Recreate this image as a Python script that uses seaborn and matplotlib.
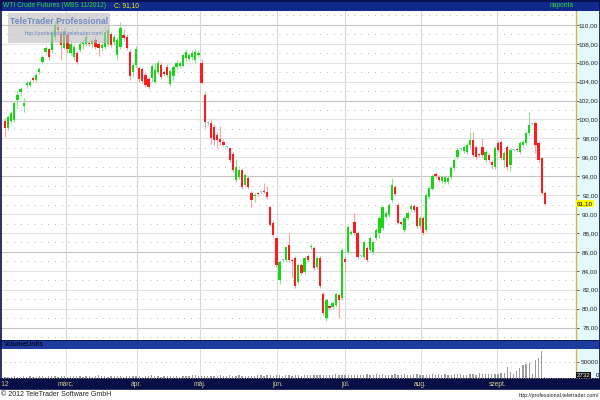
"""WTI crude futures (Nov 2012 contract) daily candles, TeleTrader style layout"""

import numpy as np
import seaborn as sns
import matplotlib.pyplot as plt
from matplotlib.patches import Rectangle

# daily prices (Feb - Sep 2012)
opens = [
    99.8, 99.1, 99.8, 99.9, 102.1, 102.9, 101.4, 103.6, 103.7, 104.4,
    104.2, 105.0, 106.1, 107.1, 107.4, 107.3, 108.7, 109.8, 109.0, 107.6,
    108.9, 107.0, 106.6, 107.0, 107.3, 108.0, 108.0, 108.1, 108.0, 108.4,
    108.0, 107.6, 107.7, 108.0, 109.0, 108.2, 106.8, 107.7, 108.9, 108.7,
    107.1, 105.0, 105.8, 105.4, 105.3, 104.7, 104.3, 104.4, 104.0, 105.0,
    105.8, 105.0, 105.6, 103.8, 104.6, 105.5, 105.7, 105.7, 106.5, 106.4,
    106.6, 106.3, 106.8, 106.0, 102.6, 99.6, 99.6, 99.2, 98.4, 97.9,
    97.6, 97.1, 97.0, 96.4, 93.6, 93.9, 94.7, 93.1, 93.8, 92.2,
    91.9, 92.2, 92.3, 92.4, 92.3, 90.7, 89.1, 87.5, 83.0, 85.1,
    85.1, 86.7, 85.1, 85.4, 82.8, 84.6, 83.9, 85.6, 86.5, 86.4,
    84.4, 85.4, 81.6, 79.0, 80.3, 80.2, 80.4, 81.5, 81.1, 85.3,
    86.0, 87.9, 89.2, 88.0, 85.6, 85.5, 86.4, 86.2, 86.0, 87.5,
    88.0, 88.5, 89.7, 89.9, 91.5, 92.9, 91.0, 89.1, 88.3, 89.6,
    90.5, 90.9, 90.7, 88.7, 89.6, 88.3, 91.8, 92.7, 94.2, 93.9,
    93.5, 93.4, 93.4, 93.9, 94.9, 96.0, 96.9, 96.7, 96.6, 97.3,
    97.8, 97.1, 96.3, 97.1, 95.7, 96.3, 95.5, 95.0, 97.5, 97.6,
    95.7, 97.1, 95.2, 96.8, 96.9, 96.6, 97.3, 97.5, 98.6, 99.5,
    99.6, 97.5, 95.9, 92.2,
]
highs = [
    100.2, 100.5, 100.9, 101.9, 103.0, 103.4, 102.3, 104.1, 104.2, 104.6,
    104.9, 105.5, 106.8, 107.8, 107.6, 109.5, 110.4, 110.6, 109.6, 109.8,
    109.3, 108.3, 107.9, 107.2, 108.3, 108.4, 109.0, 108.3, 108.5, 108.8,
    108.2, 108.2, 109.8, 109.9, 109.3, 109.0, 108.7, 110.3, 109.6, 109.0,
    107.5, 106.1, 107.8, 105.7, 105.6, 105.0, 104.5, 105.9, 106.0, 106.3,
    106.1, 105.2, 105.9, 105.3, 105.8, 106.3, 106.2, 107.0, 107.4, 107.0,
    107.3, 107.5, 107.3, 106.4, 102.9, 99.8, 100.0, 99.5, 98.7, 99.3,
    97.9, 97.2, 97.1, 96.6, 95.8, 94.9, 94.8, 94.3, 94.0, 92.4,
    92.2, 92.3, 92.4, 93.3, 93.0, 90.9, 89.3, 87.6, 85.1, 85.3,
    86.6, 88.0, 85.2, 85.6, 84.8, 84.8, 85.6, 85.8, 86.8, 86.6,
    85.6, 85.6, 81.8, 81.1, 80.4, 80.8, 81.7, 81.7, 86.4, 85.5,
    88.8, 88.3, 90.1, 88.2, 85.7, 87.2, 86.6, 87.7, 87.2, 88.5,
    89.8, 90.9, 90.3, 91.2, 93.8, 93.1, 91.2, 89.2, 89.8, 90.3,
    91.1, 91.1, 90.9, 89.8, 89.8, 92.2, 93.0, 94.2, 94.4, 94.1,
    94.0, 94.0, 94.0, 95.1, 95.9, 97.0, 97.0, 97.3, 97.5, 98.7,
    98.7, 97.3, 96.4, 98.0, 96.8, 96.5, 95.7, 97.2, 97.7, 97.8,
    96.7, 97.3, 97.0, 96.9, 97.0, 97.7, 97.8, 98.8, 100.8, 99.6,
    99.8, 97.7, 96.0, 92.4,
]
lows = [
    98.2, 98.9, 99.6, 99.7, 101.2, 102.5, 100.8, 103.3, 103.4, 104.0,
    104.0, 104.8, 105.9, 106.9, 106.3, 107.0, 108.4, 109.2, 106.3, 107.4,
    107.0, 106.8, 106.3, 105.9, 107.1, 107.5, 107.8, 107.8, 107.6, 107.4,
    106.7, 107.2, 107.5, 107.8, 107.7, 107.9, 106.3, 107.4, 108.3, 107.3,
    104.2, 104.5, 105.5, 104.0, 103.9, 103.4, 103.2, 104.1, 103.9, 104.8,
    104.3, 104.6, 104.5, 103.5, 104.2, 105.3, 105.4, 105.5, 106.2, 106.2,
    106.3, 106.0, 106.6, 103.7, 99.1, 99.4, 97.4, 97.3, 97.0, 97.3,
    97.2, 97.0, 95.5, 94.5, 93.4, 93.7, 92.6, 93.0, 92.7, 90.8,
    91.3, 91.9, 92.2, 92.2, 91.6, 88.7, 87.6, 84.4, 82.6, 84.9,
    84.9, 84.9, 83.4, 82.2, 82.6, 83.6, 83.7, 84.9, 86.3, 84.1,
    84.2, 82.2, 79.3, 78.7, 79.9, 80.0, 80.2, 79.0, 80.9, 83.9,
    85.8, 87.8, 87.8, 85.3, 85.5, 85.3, 84.9, 86.0, 85.8, 87.3,
    87.5, 88.3, 89.5, 89.7, 91.3, 91.9, 88.9, 88.8, 88.1, 89.4,
    90.3, 90.2, 88.5, 88.5, 87.8, 88.1, 91.6, 92.5, 93.8, 93.4,
    93.3, 93.2, 93.2, 93.7, 94.7, 95.8, 96.8, 96.5, 96.4, 97.1,
    96.0, 95.8, 96.0, 96.0, 95.5, 95.5, 94.8, 94.8, 96.6, 95.7,
    95.0, 94.7, 94.6, 96.7, 96.6, 96.4, 97.1, 97.3, 98.4, 99.4,
    96.5, 95.5, 92.0, 91.0,
]
closes = [
    99.1, 100.3, 100.7, 101.7, 102.6, 103.2, 101.7, 103.9, 104.0, 104.2,
    104.7, 105.3, 106.6, 107.6, 106.6, 109.1, 110.0, 109.5, 107.9, 109.4,
    107.5, 108.0, 107.7, 106.1, 108.0, 108.2, 108.7, 108.0, 108.3, 107.7,
    107.6, 107.9, 109.2, 109.5, 107.9, 108.7, 108.4, 109.7, 108.6, 107.6,
    104.6, 105.8, 107.5, 104.3, 104.1, 103.6, 103.4, 105.7, 105.2, 106.0,
    104.5, 104.8, 104.7, 105.1, 105.6, 106.0, 106.0, 106.8, 107.1, 106.8,
    107.0, 107.1, 107.0, 103.9, 99.7, 99.6, 98.0, 97.8, 97.8, 97.6,
    97.3, 97.1, 95.7, 94.7, 95.0, 94.7, 92.9, 94.1, 92.9, 91.5,
    92.0, 92.1, 92.3, 92.3, 91.8, 88.8, 87.8, 84.6, 84.9, 85.1,
    86.5, 85.1, 85.0, 82.4, 84.6, 83.8, 85.4, 85.1, 86.6, 84.3,
    85.4, 82.4, 79.5, 80.9, 80.1, 80.6, 81.5, 80.9, 86.2, 84.9,
    88.6, 88.1, 88.0, 85.5, 85.6, 87.0, 85.1, 87.5, 87.0, 88.3,
    89.6, 90.7, 90.1, 91.0, 93.1, 92.1, 89.1, 89.0, 89.6, 90.1,
    90.9, 90.4, 88.7, 89.6, 88.0, 92.0, 92.8, 94.0, 94.0, 93.6,
    93.9, 93.9, 93.8, 94.9, 95.7, 96.8, 96.9, 97.1, 97.3, 97.8,
    96.2, 96.0, 96.2, 96.2, 96.6, 95.7, 95.2, 97.0, 96.8, 95.9,
    96.5, 95.0, 96.8, 96.8, 96.8, 97.5, 97.6, 98.6, 99.4, 99.5,
    97.3, 95.7, 92.2, 91.1,
]
# volume in thousands of contracts
volume_k = [
    3, 4, 3, 5, 4, 3, 6, 4, 5, 4, 3, 5, 6, 4, 5, 7, 5, 4, 6, 5,
    4, 6, 5, 5, 7, 4, 5, 6, 4, 5, 8, 5, 6, 4, 5, 6, 7, 5, 4, 6,
    5, 7, 6, 5, 4, 6, 5, 8, 6, 5, 4, 6, 7, 5, 6, 5, 4, 7, 6, 5,
    8, 9, 6, 7, 6, 5, 7, 6, 5, 8, 7, 6, 9, 7, 6, 8, 7, 5, 6, 7,
    6, 8, 9, 7, 8, 10, 7, 8, 9, 7, 10, 8, 7, 9, 8, 6, 8, 9, 11, 10,
    9, 10, 8, 9, 11, 9, 12, 10, 9, 11, 10, 8, 9, 10, 11, 9, 12, 10, 11, 13,
    10, 12, 9, 11, 10, 12, 11, 9, 13, 10, 11, 14, 12, 10, 11, 9, 10, 12, 11, 13,
    10, 12, 9, 11, 13, 12, 14, 11, 10, 12, 13, 11, 15, 12, 14, 13,
    12, 14, 13, 17, 15, 34, 18, 14, 23, 31, 40, 45, 48, 12, 58, 62, 86, 2.732,
]

price_ticks = list(range(78, 111, 2))
month_labels = ["'12", "márc.", "ápr.", "máj.", "jún.", "júl.", "aug.", "szept."]
month_pos = [-1.4, 19.6, 42.2, 62.5, 87.3, 109.0, 133.2, 157.8]
last_close = 91.10
last_volume = 2732

W, H = 600, 400
NAVY = "#10298a"
DARK_NAVY = "#080e46"
HEADER_BLUE = "#1d3c9e"
CYAN_BG = "#e4fafa"
GOLD = "#d4b650"
UP, DOWN, DOJI = "#17d517", "#ff1b1b", "#74dada"
UP_WICK, DOWN_WICK = "#8fe48f", "#f5a3a3"
X_LO, X_HI = -1.6, 183.0


def rect(x0, y0, x1, y1):
    """pixel box (origin top left) to figure fractions"""
    return [x0 / W, 1 - y1 / H, (x1 - x0) / W, (y1 - y0) / H]


def bare(ax, color):
    ax.set_facecolor(color)
    ax.set_xticks([])
    ax.set_yticks([])
    for s in ax.spines.values():
        s.set_visible(False)


def price_scale(axis, ticks, labels):
    """cyan scale strip with ticks pointing in from the gold border"""
    axis.set_facecolor(CYAN_BG)
    axis.set_xlim(0, 1)
    axis.set_xticks([])
    axis.yaxis.tick_right()
    axis.set_yticks(ticks, labels)
    axis.tick_params(axis="y", left=True, right=False, direction="in", length=2.5, width=0.6,
                     color="#444444", labelsize=4.6, pad=-1.2)
    plt.setp(axis.get_yticklabels(), ha="right")
    for s in axis.spines.values():
        s.set_visible(False)
    axis.spines["left"].set_visible(True)
    axis.spines["left"].set_color(GOLD)
    axis.spines["left"].set_linewidth(1.0)


sns.set_style("white")
plt.rcParams["font.family"] = ["Liberation Sans", "DejaVu Sans"]

assert len(opens) == len(highs) == len(lows) == len(closes) == len(volume_k)
o, hi, lo, c = (np.array(a) for a in (opens, highs, lows, closes))
idx = np.arange(len(c))

fig = plt.figure(figsize=(6, 4), dpi=100)
fig.patch.set_facecolor("white")

# ---- price panel
ax = fig.add_axes(rect(0, 11, 576, 340))
ax.set_xlim(X_LO, X_HI)
ax.set_ylim(76.69, 111.47)
bare(ax, "white")
for v in range(77, 112):
    if v % 2:
        ax.axhline(v, color="#b8b8b8", lw=0.7, ls=(0, (1, 6)), zorder=0)
    else:
        ax.axhline(v, color="#c4c4c4" if (v - 78) % 8 == 0 else "#e3e3e3", lw=0.8, zorder=0)
for p in month_pos[1:]:
    ax.axvline(p, color="#d8d8d8", lw=0.8, zorder=0)

doji = np.abs(c - o) < 0.05
up = c > o
body_col = np.where(doji, DOJI, np.where(up, UP, DOWN))
wick_col = np.where(doji, DOJI, np.where(up, UP_WICK, DOWN_WICK))
ax.vlines(idx, lo, hi, colors=wick_col, lw=0.8, zorder=2)
bottoms = np.minimum(o, c)
heights = np.maximum(np.abs(c - o), 0.12)
ax.bar(idx, heights, bottom=bottoms, width=0.72, color=body_col, linewidth=0, zorder=3)

# watermark
ax.add_patch(Rectangle((8 / 576, (340 - 43) / 329), 102 / 576, 30 / 329, transform=ax.transAxes,
                       facecolor="#bdbdbd", alpha=0.62, edgecolor="none", zorder=5))
ax.text(59 / 576, (340 - 22) / 329, "TeleTrader Professional", transform=ax.transAxes,
        ha="center", va="center", fontsize=6.2, fontweight="bold", color="#7189c2", zorder=6)
ax.text(64 / 576, (340 - 33) / 329, "http://professional.teletrader.com/", transform=ax.transAxes,
        ha="center", va="center", fontsize=3.8, color="#6d87c4", zorder=6)

# ---- price scale
axr = fig.add_axes(rect(576, 11, 600, 340))
price_scale(axr, price_ticks, [f"{v},00" for v in price_ticks])
axr.set_ylim(ax.get_ylim())
axr.text(0.04, last_close, f"{last_close:.2f}".replace(".", ","), ha="left", va="center",
         fontsize=4.6, color="black", bbox=dict(facecolor="#ffff00", edgecolor="none", pad=0.6))

# ---- volume header
axh = fig.add_axes(rect(0, 340, 600, 349))
bare(axh, HEADER_BLUE)
axh.axhline(0.97, color=DARK_NAVY, lw=1.2)
axh.axhline(0.03, color=DARK_NAVY, lw=0.8)
axh.text(0.006, 0.45, "VolumeUnits", transform=axh.transAxes, fontsize=4.8,
         color="#050a2c", fontweight="bold", va="center")

# ---- volume panel
axv = fig.add_axes(rect(0, 349, 576, 378))
bare(axv, "white")
axv.set_xlim(X_LO, X_HI)
axv.set_ylim(0, 92000)
axv.axhline(50000, color="#b8b8b8", lw=0.7, ls=(0, (1, 4)), zorder=0)
for p in month_pos[1:]:
    axv.axvline(p, color="#dcdcdc", lw=0.7, zorder=0)
axv.bar(idx, np.array(volume_k) * 1000, width=0.42, color="#9c9c9c", linewidth=0, zorder=2)

axvr = fig.add_axes(rect(576, 349, 600, 378))
price_scale(axvr, [50000], ["50000"])
axvr.set_ylim(axv.get_ylim())
axvr.text(0.04, 1500, str(last_volume), ha="left", va="bottom", fontsize=4.4, color="white",
          bbox=dict(facecolor="#111111", edgecolor="none", pad=0.5))
axvr.text(0.96, 1500, "0", ha="right", va="bottom", fontsize=4.4, color="black")

# ---- date axis bar
axb = fig.add_axes(rect(0, 378, 600, 389))
bare(axb, DARK_NAVY)
axb.set_xlim(X_LO, X_LO + (X_HI - X_LO) * 600 / 576)
axb.set_ylim(0, 1)
axb.axhline(0.96, color="#a8a070", lw=0.7, ls=(0, (1, 1.5)))
for pos, lab in zip(month_pos, month_labels):
    axb.text(pos, 0.42, lab, ha="left" if lab.startswith("'") else "center", va="center",
             fontsize=4.8, color="#d6cf96")

# ---- title bar
axt = fig.add_axes(rect(0, 0, 600, 11))
bare(axt, NAVY)
axt.text(3 / 600, 0.5, "WTI Crude Futures (WBS 11/2012)", transform=axt.transAxes,
         fontsize=4.8, color="#37d837", va="center")
axt.text(114 / 600, 0.5, f"C: {last_close:.2f}".replace(".", ","), transform=axt.transAxes,
         fontsize=4.8, color="#f2f200", va="center")
axt.text(574 / 600, 0.5, "naponta", transform=axt.transAxes, fontsize=4.8,
         color="#37d837", va="center", ha="right")

# ---- footer and frame
fig.text(1 / W, 1 - 394.5 / H, "© 2012 TeleTrader Software GmbH", fontsize=5.0,
         color="#222222", va="center")
fig.text(599 / W, 1 - 395 / H, "http://professional.teletrader.com/", fontsize=3.9,
         color="#222222", va="center", ha="right")
fig.add_artist(Rectangle((0.5 / W, 1 - 389 / H), 599 / W, 388.5 / H, transform=fig.transFigure,
                         fill=False, edgecolor=DARK_NAVY, linewidth=1.2))

fig.savefig("out.png", dpi=100)
